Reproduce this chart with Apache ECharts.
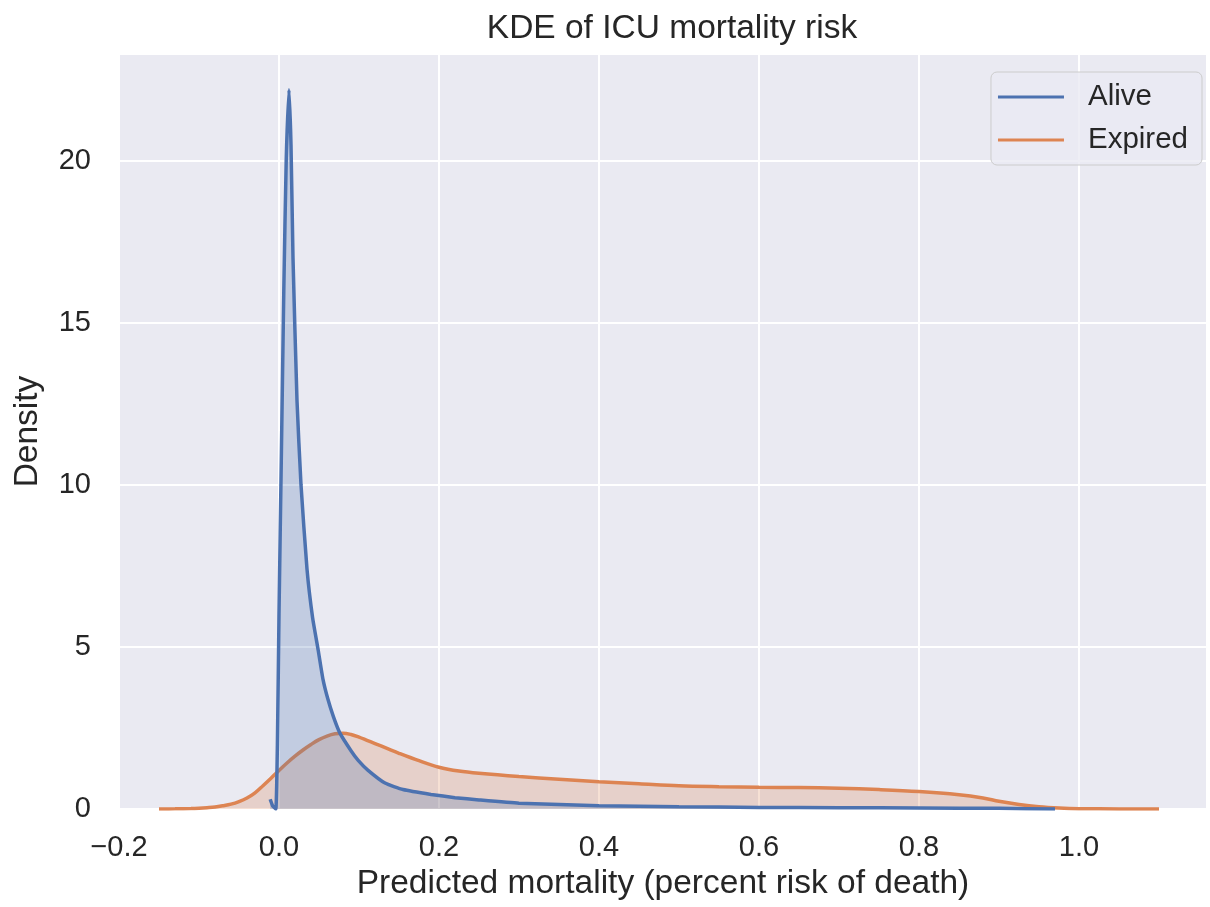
<!DOCTYPE html>
<html>
<head>
<meta charset="utf-8">
<script src="https://cdn.jsdelivr.net/npm/echarts@6/dist/echarts.min.js"></script>
<style>
  html, body { margin: 0; padding: 0; background: #fff; }
  #main { width: 1210px; height: 907px; }
</style>
</head>
<body>
<div id="main"></div>
<script>
// KDE curves
var aliveX = [-0.011, -0.008, -0.004, -0.002, 0.0, 0.003, 0.006, 0.009, 0.0125, 0.015, 0.0175, 0.0225, 0.0275, 0.035, 0.042, 0.049, 0.055, 0.061, 0.068, 0.076, 0.09, 0.099, 0.111, 0.1325, 0.155, 0.19, 0.22, 0.25, 0.3, 0.4, 0.5, 0.6, 0.7, 0.8, 0.9, 0.97];
var aliveY = [0.3, 0.1, 0.0, 2.0, 6.0, 11.0, 16.0, 20.0, 22.2, 20.5, 17.0, 12.6, 10.0, 7.4, 5.9, 4.9, 4.0, 3.4, 2.85, 2.35, 1.8, 1.5, 1.2, 0.8, 0.6, 0.45, 0.35, 0.28, 0.18, 0.1, 0.07, 0.05, 0.04, 0.03, 0.02, 0.0];

var expiredX = [-0.15, -0.13, -0.11, -0.1, -0.09, -0.08, -0.07, -0.06, -0.05, -0.04, -0.03, -0.02, -0.01, 0.0, 0.01, 0.02, 0.03, 0.04, 0.05, 0.06, 0.07, 0.08, 0.09, 0.1, 0.11, 0.12, 0.135, 0.15, 0.175, 0.2, 0.225, 0.25, 0.3, 0.35, 0.4, 0.45, 0.5, 0.55, 0.6, 0.65, 0.7, 0.75, 0.8, 0.85, 0.88, 0.9, 0.925, 0.95, 0.975, 1.0, 1.05, 1.1];
var expiredY = [0.0, 0.005, 0.015, 0.025, 0.04, 0.06, 0.1, 0.15, 0.23, 0.34, 0.5, 0.72, 0.95, 1.19, 1.42, 1.63, 1.82, 1.99, 2.14, 2.25, 2.32, 2.34, 2.3, 2.22, 2.12, 2.02, 1.87, 1.72, 1.49, 1.29, 1.17, 1.1, 1.0, 0.92, 0.84, 0.78, 0.72, 0.69, 0.67, 0.66, 0.64, 0.6, 0.54, 0.44, 0.34, 0.24, 0.14, 0.07, 0.03, 0.01, 0.002, 0.0];

var seriesNames = ['Alive', 'Expired'];
var colors = ['#4C72B0', '#DD8452'];

function pairs(xs, ys) {
    var out = [];
    for (let i = 0; i < xs.length; i++) {
        out.push([xs[i], ys[i]]);
    }
    return out;
}

var myChart = echarts.init(document.getElementById('main'));
var font = '"Liberation Sans", Arial, sans-serif';

var option = {
    color: colors,
    backgroundColor: '#ffffff',
    textStyle: { fontFamily: font, color: '#262626' },
    title: {
        text: 'KDE of ICU mortality risk',
        left: 667,
        textAlign: 'center',
        top: 7,
        textStyle: { fontFamily: font, fontSize: 33.5, fontWeight: 'normal', color: '#262626' }
    },
    legend: {
        orient: 'vertical',
        right: 8,
        top: 72,
        data: seriesNames,
        icon: 'rect',
        itemWidth: 66,
        itemHeight: 3,
        itemGap: 13,
        padding: [10, 14, 10, 7],
        backgroundColor: 'rgba(234,234,242,0.8)',
        borderColor: '#cccccc',
        borderWidth: 1,
        borderRadius: 6,
        textStyle: { fontFamily: font, fontSize: 29.5, color: '#262626', padding: [0, 0, 0, 19] }
    },
    grid: {
        left: 119,
        right: 3,
        top: 54,
        bottom: 98,
        show: true,
        backgroundColor: '#EAEAF2',
        borderWidth: 0
    },
    xAxis: {
        type: 'value',
        min: -0.2,
        max: 1.16,
        interval: 0.2,
        name: 'Predicted mortality (percent risk of death)',
        nameLocation: 'middle',
        nameGap: 58,
        nameTextStyle: { fontFamily: font, fontSize: 33.5, color: '#262626' },
        axisLine: { show: false },
        axisTick: { show: false },
        axisLabel: {
            fontFamily: font,
            fontSize: 29,
            color: '#262626',
            margin: 24,
            showMaxLabel: false,
            formatter: function (v) {
                var s = Math.abs(v).toFixed(1);
                return v < -1e-9 ? '\u2212' + s : s;
            }
        },
        splitLine: { show: true, lineStyle: { color: '#ffffff', width: 2 } }
    },
    yAxis: {
        type: 'value',
        min: 0,
        max: 23.3,
        interval: 5,
        name: 'Density',
        nameLocation: 'middle',
        nameGap: 74,
        nameTextStyle: { fontFamily: font, fontSize: 33.5, color: '#262626' },
        axisLine: { show: false },
        axisTick: { show: false },
        axisLabel: {
            fontFamily: font,
            fontSize: 29,
            color: '#262626',
            margin: 28,
            showMaxLabel: false
        },
        splitLine: { show: true, lineStyle: { color: '#ffffff', width: 2 } }
    },
    series: [
        {
            name: 'Alive',
            type: 'line',
            data: pairs(aliveX, aliveY),
            symbol: 'none',
            smooth: 0.15,
            lineStyle: { width: 3.5, color: colors[0] },
            areaStyle: { color: colors[0], opacity: 0.25 },
            z: 3
        },
        {
            name: 'Expired',
            type: 'line',
            data: pairs(expiredX, expiredY),
            symbol: 'none',
            smooth: 0.35,
            lineStyle: { width: 3.5, color: colors[1] },
            areaStyle: { color: colors[1], opacity: 0.25 },
            z: 2
        }
    ]
};

option && myChart.setOption(option);
window.onresize = myChart.resize;
</script>
</body>
</html>
